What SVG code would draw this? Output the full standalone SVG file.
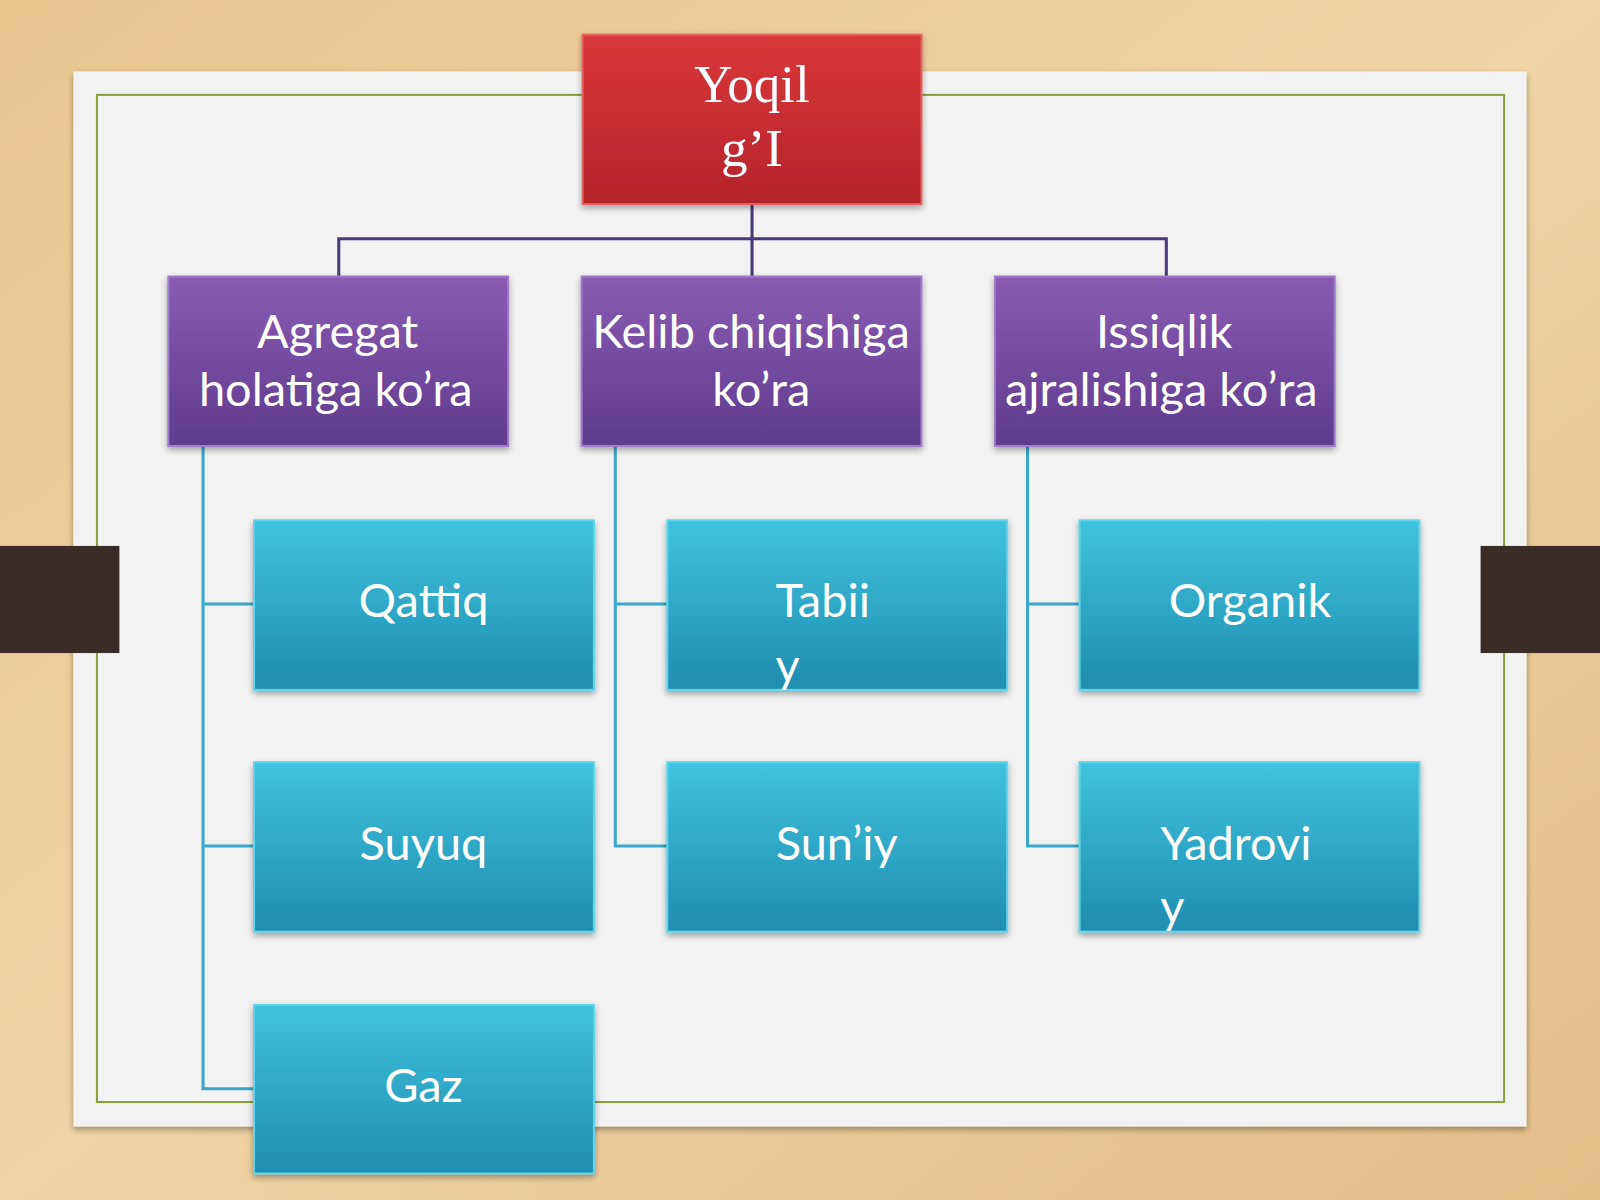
<svg xmlns="http://www.w3.org/2000/svg" width="1600" height="1200" viewBox="0 0 1600 1200">
<defs>
<linearGradient id="wood" x1="0" y1="0" x2="1" y2="1"><stop offset="0" stop-color="#e9c690"/><stop offset="0.5" stop-color="#f0d3a6"/><stop offset="1" stop-color="#e3bd88"/></linearGradient>
<linearGradient id="red" x1="0" y1="0" x2="0" y2="1"><stop offset="0" stop-color="#d9383a"/><stop offset="1" stop-color="#b4242a"/></linearGradient>
<linearGradient id="pur" x1="0" y1="0" x2="0" y2="1"><stop offset="0" stop-color="#8a5bb3"/><stop offset="1" stop-color="#5f3b8c"/></linearGradient>
<linearGradient id="teal" x1="0" y1="0" x2="0" y2="1"><stop offset="0" stop-color="#3fc3de"/><stop offset="1" stop-color="#1f8db0"/></linearGradient>
<filter id="sh" x="-10%" y="-10%" width="120%" height="130%"><feDropShadow dx="0" dy="3" stdDeviation="3" flood-opacity="0.35"/></filter>
</defs>
<style>
.t{font-family:Lato,"Open Sans","Liberation Sans",sans-serif;font-size:46px;fill:#fff;text-anchor:middle}
.tl{font-family:Lato,"Open Sans","Liberation Sans",sans-serif;font-size:46px;fill:#fff}
.r{font-family:"Liberation Serif",serif;font-size:52px;fill:#fff;text-anchor:middle}
.pb{stroke:#4a3a78;stroke-width:3;fill:none}
.tb{stroke:#3aa8c8;stroke-width:3;fill:none}
</style>
<rect width="1600" height="1200" fill="url(#wood)"/>
<g transform="scale(1.0204)">
<rect x="72" y="70" width="1424" height="1034" fill="#f2f2f2" filter="url(#sh)"/>
<rect x="95" y="93" width="1379" height="987" fill="none" stroke="#8aa03c" stroke-width="2"/>
<rect x="0" y="535" width="117" height="105" fill="#3a2c26"/>
<rect x="1451" y="535" width="117" height="105" fill="#3a2c26"/>
<g id="connectors">
<path class="pb" d="M737 200V271M332 271V234H1143V271"/>
<path class="tb" d="M199 437V1067H249M199 592H249M199 829H249"/>
<path class="tb" d="M603 437V829H654M603 592H654"/>
<path class="tb" d="M1007 437V829H1058M1007 592H1058"/>
</g>
<g id="root"><rect x="571" y="34" width="332" height="166" fill="url(#red)" stroke="#e06060" stroke-width="2" filter="url(#sh)"/><text class="r" x="737" y="100">Yoqil</text><text class="r" x="737" y="163">g’I</text></g>
<g id="agregat"><rect x="165" y="271" width="333" height="166" fill="url(#pur)" stroke="#a07cc8" stroke-width="2" filter="url(#sh)"/><text class="t" x="331" y="341">Agregat</text><text class="t" x="329" y="398">holatiga ko’ra</text></g>
<g id="kelib"><rect x="570" y="271" width="333" height="166" fill="url(#pur)" stroke="#a07cc8" stroke-width="2" filter="url(#sh)"/><text class="t" x="736" y="341">Kelib chiqishiga</text><text class="t" x="746" y="398">ko’ra</text></g>
<g id="issiqlik"><rect x="975" y="271" width="333" height="166" fill="url(#pur)" stroke="#a07cc8" stroke-width="2" filter="url(#sh)"/><text class="t" x="1141" y="341">Issiqlik</text><text class="t" x="1138" y="398">ajralishiga ko’ra</text></g>
<g id="qattiq"><rect x="249" y="510" width="333" height="166" fill="url(#teal)" stroke="#5fd3ea" stroke-width="2" filter="url(#sh)"/><text class="t" x="415" y="605">Qattiq</text></g>
<g id="suyuq"><rect x="249" y="747" width="333" height="166" fill="url(#teal)" stroke="#5fd3ea" stroke-width="2" filter="url(#sh)"/><text class="t" x="415" y="843">Suyuq</text></g>
<g id="gaz"><rect x="249" y="985" width="333" height="165" fill="url(#teal)" stroke="#5fd3ea" stroke-width="2" filter="url(#sh)"/><text class="t" x="415" y="1080">Gaz</text></g>
<g id="tabiiy"><rect x="654" y="510" width="333" height="166" fill="url(#teal)" stroke="#5fd3ea" stroke-width="2" filter="url(#sh)"/><text class="tl" x="760" y="605">Tabii</text><text class="tl" x="760" y="668">y</text></g>
<g id="suniy"><rect x="654" y="747" width="333" height="166" fill="url(#teal)" stroke="#5fd3ea" stroke-width="2" filter="url(#sh)"/><text class="t" x="820" y="843">Sun’iy</text></g>
<g id="organik"><rect x="1058" y="510" width="333" height="166" fill="url(#teal)" stroke="#5fd3ea" stroke-width="2" filter="url(#sh)"/><text class="t" x="1225" y="605">Organik</text></g>
<g id="yadroviy"><rect x="1058" y="747" width="333" height="166" fill="url(#teal)" stroke="#5fd3ea" stroke-width="2" filter="url(#sh)"/><text class="tl" x="1137" y="843">Yadrovi</text><text class="tl" x="1137" y="905">y</text></g>
</g>
</svg>
